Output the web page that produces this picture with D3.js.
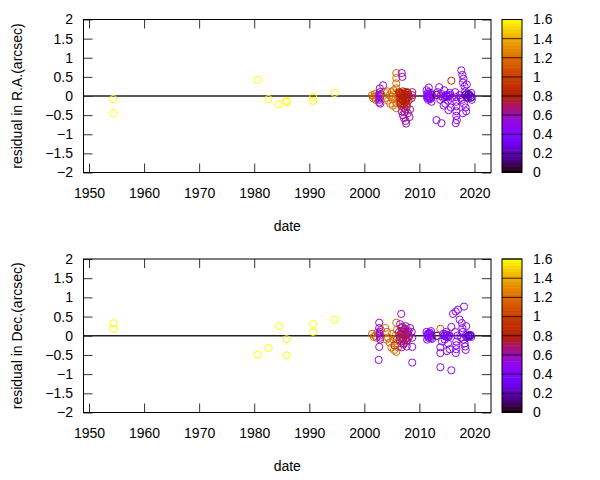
<!DOCTYPE html>
<html><head><meta charset="utf-8">
<script src="https://cdn.jsdelivr.net/npm/d3@7"></script>
<style>body{margin:0;background:#fff}svg{display:block}text{font-family:"Liberation Sans",Arial,sans-serif;font-size:14px;fill:#000}</style>
</head><body><svg id="c" width="600" height="480"></svg>
<script>
// x ticks, y ticks, colour-bar ticks
const xTicks = [1950,1960,1970,1980,1990,2000,2010,2020];
const yTicks = [-2,-1.5,-1,-0.5,0,0.5,1,1.5,2];
const cbTicks = [0,0.2,0.4,0.6,0.8,1,1.2,1.4,1.6];
const panelLabels = ["residual in R.A.(arcsec)","residual in Dec.(arcsec)"];

// R.A. residuals: [date, residual, colour value]
const raPoints = [
[1954.4,-0.08,1.6],[1954.4,-0.45,1.6],[1980.6,0.42,1.6],[1982.6,-0.08,1.6],[1984.4,-0.22,1.6],
[1985.9,-0.13,1.6],[1985.9,-0.16,1.6],[1990.7,-0.03,1.6],[1990.7,-0.13,1.6],[1994.6,0.08,1.6],
[2001.4,0.02,1.15],[2001.6,-0.06,1.15],[2001.9,0.05,1.15],[2002.1,-0.1,1.15],[2002.3,0.0,1.15],[2001.8,-0.02,1.15],
[2002.8,0.2,0.55],[2002.8,0.1,0.55],[2002.7,0.02,0.55],[2002.9,-0.02,0.55],[2002.8,-0.06,0.55],[2002.7,-0.17,0.55],[2002.9,-0.2,0.55],[2003.0,0.05,0.55],[2003.4,0.28,0.55],
[2002.8,0.0,0.5],[2002.9,0.04,0.5],[2002.7,-0.1,0.5],
[2003.8,0.08,1.2],[2003.9,-0.05,1.2],[2004.2,0.12,1.2],[2004.3,-0.12,1.2],[2004.6,0.02,1.2],[2004.7,-0.2,1.2],[2005.0,0.1,1.2],[2005.1,-0.08,1.2],[2005.3,0.15,1.2],[2005.2,-0.25,1.2],[2004.9,-0.02,1.2],
[2005.8,0.6,1.2],[2005.8,0.47,1.2],[2005.8,0.33,1.2],[2005.8,0.2,1.2],[2005.8,0.07,1.2],[2005.8,-0.06,1.2],[2005.8,-0.19,1.2],[2005.8,-0.32,1.2],
[2006.8,0.6,0.55],[2006.9,0.5,0.55],
[2006.3,0.1,0.8],[2006.4,-0.05,0.8],[2006.5,-0.15,0.8],[2006.6,0.05,0.8],[2006.7,-0.25,0.8],[2006.8,0.0,0.8],[2006.9,-0.1,0.8],[2007.0,0.12,0.8],[2007.1,-0.2,0.8],[2007.2,-0.3,0.8],
[2007.3,0.05,0.8],[2007.4,-0.08,0.8],[2007.5,-0.15,0.8],[2007.6,0.02,0.8],[2007.7,-0.22,0.8],[2007.8,-0.05,0.8],[2007.9,0.08,0.8],[2008.0,-0.12,0.8],[2008.1,-0.02,0.8],[2007.5,-0.35,0.8],
[2006.5,0.02,0.8],[2006.7,-0.08,0.8],[2006.9,0.06,0.8],[2007.1,-0.03,0.8],[2007.3,-0.18,0.8],[2007.6,-0.1,0.8],[2007.8,0.1,0.8],[2008.0,0.03,0.8],
[2006.6,-0.2,0.8],[2007.0,-0.12,0.8],[2007.4,0.1,0.8],[2007.7,-0.28,0.8],[2006.4,0.08,0.8],[2007.2,0.0,0.8],
[2008.7,0.1,0.7],[2008.7,0.02,0.7],[2008.6,-0.05,0.7],
[2006.8,-0.4,0.6],[2007.0,-0.5,0.6],[2007.2,-0.58,0.6],[2007.5,-0.65,0.6],[2007.6,-0.72,0.6],[2007.9,-0.45,0.6],[2008.2,-0.55,0.6],[2008.3,-0.35,0.6],[2007.3,-0.42,0.6],
[2011.3,0.15,0.5],[2011.4,0.05,0.5],[2011.5,-0.02,0.5],[2011.6,-0.1,0.5],[2011.8,0.0,0.5],[2012.0,0.08,0.5],[2012.1,-0.05,0.5],[2012.2,-0.15,0.5],[2011.7,0.22,0.5],[2012.3,0.02,0.5],
[2011.5,0.0,0.45],[2011.9,-0.03,0.45],[2012.2,0.03,0.45],[2011.4,-0.05,0.45],[2011.7,0.04,0.45],[2012.0,-0.08,0.45],[2011.6,0.1,0.45],[2011.8,-0.06,0.45],
[2013.1,0.03,0.05],[2013.8,0.0,0.85],[2015.8,0.4,0.85],
[2013.3,0.1,0.5],[2013.6,0.23,0.5],[2013.8,-0.1,0.5],[2014.0,0.05,0.5],[2014.3,-0.05,0.5],[2014.5,0.15,0.5],[2014.7,-0.2,0.5],[2014.9,0.0,0.5],[2015.2,-0.12,0.5],[2015.5,0.08,0.5],
[2015.7,-0.3,0.5],[2015.9,-0.05,0.5],[2013.1,-0.63,0.5],[2014.0,-0.71,0.5],[2015.3,-0.37,0.5],[2014.4,-0.25,0.5],
[2014.8,0.02,0.3],[2015.1,-0.02,0.3],[2015.4,0.0,0.3],[2014.6,-0.03,0.35],[2015.6,0.03,0.35],
[2016.7,-0.03,0.5],[2016.7,-0.15,0.5],[2016.7,-0.27,0.5],[2016.7,-0.4,0.5],[2016.7,-0.52,0.5],[2016.8,-0.63,0.5],[2016.6,-0.71,0.5],[2016.5,0.1,0.5],
[2017.6,0.67,0.5],[2017.8,0.55,0.5],[2018.0,0.45,0.5],[2017.9,0.35,0.5],[2018.2,0.25,0.5],[2018.3,0.12,0.5],[2017.7,-0.1,0.5],[2018.1,-0.2,0.5],[2018.4,-0.3,0.5],[2018.5,-0.4,0.5],[2017.9,-0.45,0.5],[2018.6,0.3,0.5],
[2017.3,0.02,0.5],[2017.5,-0.05,0.5],[2019.4,0.08,0.5],[2019.5,-0.1,0.5],
[2018.3,0.02,0.2],[2018.6,-0.02,0.2],[2018.9,0.03,0.2],[2019.2,0.0,0.15],[2019.5,-0.03,0.2],[2018.8,-0.05,0.2],[2019.0,0.05,0.2],[2018.5,0.05,0.25],[2019.3,-0.05,0.25]
];

// Dec. residuals: [date, residual, colour value]
const decPoints = [
[1954.4,0.33,1.6],[1954.4,0.18,1.6],[1980.6,-0.49,1.6],[1982.6,-0.32,1.6],[1984.5,0.25,1.6],
[1985.9,-0.09,1.6],[1985.9,-0.51,1.6],[1990.7,0.31,1.6],[1990.7,0.10,1.6],[1994.6,0.42,1.6],
[2001.4,0.05,1.15],[2001.7,-0.03,1.15],[2002.0,0.0,1.15],[2002.2,-0.05,1.15],[2002.4,0.08,1.15],
[2002.7,0.34,0.55],[2002.7,0.2,0.55],[2002.8,0.1,0.55],[2002.8,0.0,0.55],[2002.9,-0.05,0.55],[2002.7,-0.29,0.55],[2002.6,-0.63,0.55],[2003.0,0.15,0.55],
[2002.8,0.05,0.5],[2002.9,-0.1,0.5],
[2003.8,0.2,1.2],[2004.1,0.1,1.2],[2004.3,-0.05,1.2],[2004.6,-0.18,1.2],[2004.9,-0.31,1.2],[2005.4,-0.37,1.2],[2005.8,0.34,1.2],[2005.8,-0.42,1.2],
[2005.0,0.05,1.2],[2005.3,-0.1,1.2],[2005.6,0.0,1.2],[2006.0,-0.2,1.2],[2004.0,-0.1,1.2],[2005.9,0.15,1.2],[2006.1,-0.3,1.2],
[2005.5,-0.25,0.9],[2005.9,-0.1,0.9],
[2006.3,0.1,0.7],[2006.5,-0.05,0.7],[2006.7,0.2,0.7],[2006.8,-0.15,0.7],[2007.0,0.05,0.7],[2007.2,-0.2,0.7],[2007.3,0.15,0.7],[2007.5,-0.08,0.7],
[2007.6,0.02,0.7],[2007.8,-0.12,0.7],[2007.9,0.08,0.7],[2008.1,-0.03,0.7],[2007.1,-0.23,0.7],[2006.9,0.23,0.7],[2007.4,0.0,0.7],
[2006.4,-0.1,0.7],[2006.6,0.05,0.7],[2006.8,0.12,0.7],[2007.0,-0.08,0.7],[2007.2,0.02,0.7],[2007.4,0.18,0.7],[2007.6,-0.15,0.7],[2007.8,0.05,0.7],
[2008.0,0.12,0.7],[2006.7,-0.02,0.7],[2007.1,0.1,0.7],[2007.5,0.08,0.7],[2007.9,-0.05,0.7],
[2006.7,0.57,0.55],[2008.7,-0.7,0.55],[2008.7,-0.29,0.55],[2008.6,0.1,0.55],[2008.7,-0.05,0.55],[2006.8,-0.3,0.55],[2007.7,-0.28,0.55],[2008.3,0.2,0.55],[2006.5,0.3,0.55],[2007.5,0.25,0.55],
[2011.3,0.1,0.45],[2011.5,0.0,0.45],[2011.6,-0.05,0.45],[2011.8,0.05,0.45],[2012.0,-0.03,0.45],[2012.2,0.02,0.45],[2011.4,-0.1,0.45],[2012.1,0.12,0.45],[2012.3,-0.08,0.45],
[2011.4,0.03,0.45],[2011.7,-0.02,0.45],[2011.9,0.08,0.45],[2012.1,-0.06,0.45],[2011.6,0.06,0.45],
[2013.2,0.0,0.05],[2013.8,0.18,1.1],
[2013.8,-0.3,0.5],[2013.8,-0.45,0.5],[2013.8,-0.82,0.5],[2015.8,0.23,0.5],[2015.8,-0.9,0.5],[2016.1,0.57,0.5],[2016.6,0.63,0.5],[2017.0,0.68,0.5],[2018.1,0.76,0.5],[2017.3,0.42,0.5],
[2014.3,0.05,0.5],[2014.6,-0.1,0.5],[2014.9,0.1,0.5],[2015.2,-0.2,0.5],[2015.5,-0.35,0.5],[2014.1,-0.15,0.5],[2015.0,-0.4,0.5],
[2016.7,-0.15,0.5],[2016.7,-0.25,0.5],[2016.7,-0.35,0.5],[2016.6,-0.45,0.5],[2017.7,0.33,0.5],[2017.8,0.2,0.5],[2017.9,0.1,0.5],[2018.0,-0.1,0.5],
[2018.2,-0.2,0.5],[2018.3,-0.28,0.5],[2018.4,-0.37,0.5],[2018.5,0.25,0.5],[2017.6,-0.05,0.5],[2016.9,0.0,0.5],[2016.5,0.1,0.5],
[2014.5,0.0,0.3],[2014.8,-0.02,0.3],[2015.1,0.02,0.3],[2015.4,0.0,0.3],[2014.7,0.04,0.35],[2015.2,-0.04,0.35],
[2018.4,0.0,0.3],[2018.7,0.03,0.3],[2019.0,-0.02,0.3],[2019.3,0.02,0.3],[2018.9,0.0,0.15],[2019.2,0.0,0.15],[2018.6,-0.04,0.3],[2019.4,-0.03,0.3]
];

const svg = d3.select("#c");
const L = 83.5, R = 491, cbX = 502, cbW = 20;
const panels = [{top:19.5,bottom:172.5,data:raPoints,label:panelLabels[0]},
                {top:259,bottom:412.5,data:decPoints,label:panelLabels[1]}];

const x = d3.scaleLinear().domain([1949,2023]).range([L,R]);
const palette = t => {
  const r = Math.sqrt(t), g = t*t*t, b = Math.max(0, Math.sin(2*Math.PI*t));
  return d3.rgb(255*r, 255*g, 255*Math.min(1,b)).toString();
};
const color = d3.scaleSequential(palette).domain([0,1.6]).clamp(true);

panels.forEach(p => {
  const y = d3.scaleLinear().domain([-2,2]).range([p.bottom,p.top]);
  const g = svg.append("g");
  g.append("line").attr("x1",L).attr("x2",R).attr("y1",y(0)).attr("y2",y(0))
    .attr("stroke","#222").attr("stroke-width",1.3);
  g.append("g").selectAll("circle").data(p.data).join("circle")
    .attr("cx",d=>x(d[0])).attr("cy",d=>y(d[1])).attr("r",3.6)
    .attr("fill","none").attr("stroke",d=>color(d[2])).attr("stroke-width",1);
  const xb = g.append("g").attr("transform",`translate(0,${p.bottom})`)
    .call(d3.axisBottom(x).tickValues(xTicks).tickFormat(d3.format("d")).tickSize(-9).tickPadding(16));
  const xt = g.append("g").attr("transform",`translate(0,${p.top})`)
    .call(d3.axisTop(x).tickValues(xTicks).tickFormat("").tickSize(-9));
  const yl = g.append("g").attr("transform",`translate(${L},0)`)
    .call(d3.axisLeft(y).tickValues(yTicks).tickFormat(d3.format("")).tickSize(-9).tickPadding(10.5));
  const yr = g.append("g").attr("transform",`translate(${R},0)`)
    .call(d3.axisRight(y).tickValues(yTicks).tickFormat("").tickSize(-9));
  [xb,xt,yl,yr].forEach(a=>{
    a.select(".domain").remove();
    a.selectAll("line").attr("stroke","#333");
    a.selectAll("text").attr("font-size",null).attr("font-family",null).style("font-size","14px").attr("fill","#000");
  });
  g.append("rect").attr("x",L).attr("y",p.top).attr("width",R-L).attr("height",p.bottom-p.top)
    .attr("fill","none").attr("stroke","#000").attr("stroke-width",1);
  g.append("text").attr("x",(L+R)/2).attr("y",p.bottom+58.5).attr("text-anchor","middle").text("date");
  g.append("text").attr("transform",`translate(22,${(p.top+p.bottom)/2}) rotate(-90)`)
    .attr("text-anchor","middle").text(p.label);
  const cy = d3.scaleLinear().domain([0,1.6]).range([p.bottom,p.top]);
  const n = 48, step = 1.6/n;
  const cb = g.append("g");
  cb.selectAll("rect").data(d3.range(n)).join("rect")
    .attr("x",cbX).attr("width",cbW)
    .attr("y",i=>cy((i+1)*step)).attr("height",i=>cy(i*step)-cy((i+1)*step)+0.5)
    .attr("fill",i=>color((i+0.5)*step));
  cb.selectAll("line.t").data(cbTicks).join("line").attr("class","t")
    .attr("x1",cbX).attr("x2",cbX+cbW).attr("y1",d=>cy(d)).attr("y2",d=>cy(d))
    .attr("stroke","#000").attr("stroke-width",0.8);
  cb.append("rect").attr("x",cbX).attr("y",p.top).attr("width",cbW).attr("height",p.bottom-p.top)
    .attr("fill","none").attr("stroke","#000").attr("stroke-width",1);
  cb.selectAll("text").data(cbTicks).join("text")
    .attr("x",533).attr("y",d=>cy(d)).attr("dy","0.35em").text(d=>d3.format("")(d));
});
</script></body></html>
